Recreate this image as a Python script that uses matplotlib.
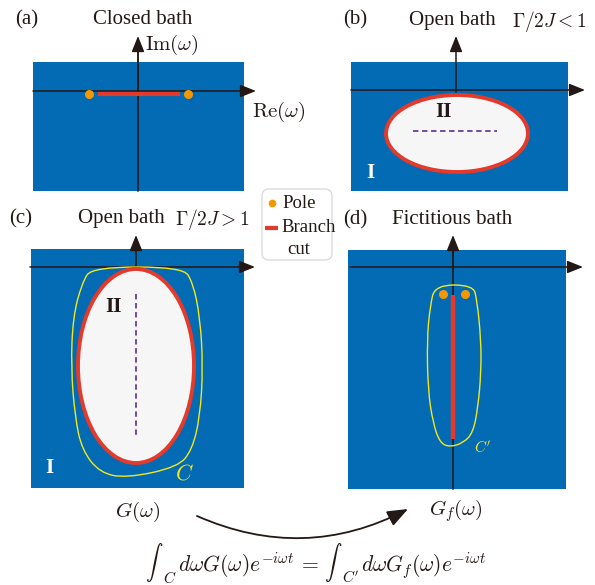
import matplotlib
matplotlib.use("Agg")
import matplotlib.pyplot as plt
from matplotlib.patches import Rectangle, Ellipse, FancyArrowPatch, FancyBboxPatch, PathPatch
from matplotlib.path import Path

plt.rcParams['font.family'] = ['Liberation Serif', 'DejaVu Serif']
plt.rcParams['mathtext.fontset'] = 'cm'

# ---- colours ----
BLUE = '#036AB4'
RED = '#E43A2B'
ORANGE = '#F39800'
YELLOW = '#F4E81A'
INNER = '#F5F6F5'
PURPLE = '#6E3A9E'
INK = '#231815'

# ---- complex-plane content of each panel (Re, Im), plane units ----
# (a) closed bath: two poles joined by a branch cut on the real axis
poles_a_re = [-49, 50]
poles_a_im = [-3, -3]
cut_a_re = [-40, 42]
cut_a_im = [-3, -3]

# (b) open bath, Gamma/2J < 1: region II is a wide ellipse
ell_b_center = (1, -43.5)
ell_b_size = (142, 77)
dash_b_re = [-43, 41]
dash_b_im = [-41, -41]

# (c) open bath, Gamma/2J > 1: region II is a tall ellipse, contour C around it
ell_c_center = (0, -99)
ell_c_size = (116, 194)
dash_c_re = [0, 0]
dash_c_im = [-27, -171]
contour_c_re = [-44, 47, 57, 64, 67, 64, 56, 42, -9, -36, -54, -61, -65, -63, -54]
contour_c_im = [0, 0, -16, -50, -100, -150, -183, -200, -211, -206, -183, -150, -100, -50, -16]

# (d) fictitious bath: two poles above a vertical branch cut, contour C'
poles_d_re = [-10, 12]
poles_d_im = [-27, -27]
cut_d_re = [0, 0]
cut_d_im = [-28, -172]
contour_d_re = [-18, 20, 24, 28, 28, 25, 20, 10, -3, -13, -20, -25, -26, -23]
contour_d_im = [-18, -18, -33, -73, -106, -140, -166, -176, -180, -176, -156, -123, -73, -40]

fig = plt.figure(figsize=(5.95, 5.85), dpi=100)
ax = fig.add_axes([0, 0, 1, 1])
ax.set_xlim(0, 595)
ax.set_ylim(585, 0)
ax.axis('off')


def to_fig(origin, re, im):
    ox, oy = origin
    return [ox + r for r in re], [oy - i for i in im]


def arrow(p0, p1, lw=1.1):
    a = FancyArrowPatch(p0, p1, arrowstyle='-|>,head_length=0.8,head_width=0.32',
                        mutation_scale=12, lw=lw, color=INK, shrinkA=0, shrinkB=0,
                        zorder=5)
    ax.add_patch(a)


def smooth_closed(xs, ys):
    n = len(xs)
    mids = [((xs[i] + xs[(i + 1) % n]) / 2, (ys[i] + ys[(i + 1) % n]) / 2) for i in range(n)]
    verts = [mids[-1]]
    codes = [Path.MOVETO]
    for i in range(n):
        verts += [(xs[i], ys[i]), mids[i]]
        codes += [Path.CURVE3, Path.CURVE3]
    return Path(verts, codes)


def blue_box(x0, y0, x1, y1):
    ax.add_patch(Rectangle((x0, y0), x1 - x0, y1 - y0, facecolor=BLUE, edgecolor='none', zorder=1))


TXT = dict(fontsize=15, color=INK, va='center')

# ================= (a) =================
oa = (138, 91)
blue_box(33, 62, 244, 191)
ax.plot([138, 138], [191, 50], color=INK, lw=1.1, zorder=4)
arrow((33, 91), (256, 91))
arrow((138, 100), (138, 36))
x, y = to_fig(oa, cut_a_re, cut_a_im)
ax.plot(x, y, color=RED, lw=3, solid_capstyle='butt', zorder=6)
x, y = to_fig(oa, poles_a_re, poles_a_im)
ax.plot(x, y, 'o', color=ORANGE, ms=6.5, mec='none', zorder=7)
ax.text(15, 20, '(a)', ha='left', **TXT)
ax.text(143, 20, 'Closed bath', ha='center', **TXT)
ax.text(145, 45, r'$\mathrm{Im}(\omega)$', ha='left', **TXT)
ax.text(252, 112, r'$\mathrm{Re}(\omega)$', ha='left', **TXT)

# ================= (b) =================
ob = (456, 90)
blue_box(351, 62, 568, 191)
arrow((351, 90), (585, 90))
arrow((456, 92), (456, 36))
cx, cy = to_fig(ob, [ell_b_center[0]], [ell_b_center[1]])
ax.add_patch(Ellipse((cx[0], cy[0]), ell_b_size[0], ell_b_size[1], facecolor=INNER,
                     edgecolor=RED, lw=2.8, zorder=6))
x, y = to_fig(ob, dash_b_re, dash_b_im)
ax.plot(x, y, color=PURPLE, lw=1.3, ls=(0, (3, 2)), zorder=7)
ax.text(443, 112, 'II', ha='center', fontsize=15, fontweight='bold', color=INK, va='center', zorder=8)
ax.text(370, 173, 'I', ha='center', fontsize=15, fontweight='bold', color='white', va='center', zorder=8)
ax.text(355, 20, '(b)', ha='center', **TXT)
ax.text(452, 20, 'Open bath', ha='center', **TXT)
ax.text(549, 21, r'$\Gamma/2J<1$', ha='center', fontsize=14, color=INK, va='center')

# ================= (c) =================
oc = (136, 267)
blue_box(31, 249, 244, 488)
arrow((30, 267), (255, 267))
arrow((136, 270), (136, 235))
x, y = to_fig(oc, contour_c_re, contour_c_im)
ax.add_patch(PathPatch(smooth_closed(x, y), facecolor='none', edgecolor=YELLOW, lw=1.0, zorder=5))
cx, cy = to_fig(oc, [ell_c_center[0]], [ell_c_center[1]])
ax.add_patch(Ellipse((cx[0], cy[0]), ell_c_size[0], ell_c_size[1], facecolor=INNER,
                     edgecolor=RED, lw=2.8, zorder=6))
x, y = to_fig(oc, dash_c_re, dash_c_im)
ax.plot(x, y, color=PURPLE, lw=1.3, ls=(0, (3, 2)), zorder=7)
ax.text(114, 307, 'II', ha='center', fontsize=15, fontweight='bold', color=INK, va='center', zorder=8)
ax.text(49, 468, 'I', ha='center', fontsize=15, fontweight='bold', color='white', va='center', zorder=8)
ax.text(184, 474, r'$C$', ha='center', fontsize=16, color=YELLOW, va='center', zorder=8)
ax.text(21, 219, '(c)', ha='center', **TXT)
ax.text(121, 219, 'Open bath', ha='center', **TXT)
ax.text(212, 220, r'$\Gamma/2J>1$', ha='center', fontsize=14, color=INK, va='center')

# ================= (d) =================
od = (453, 267)
blue_box(348, 250, 566, 489)
ax.plot([453, 453], [489, 250], color=INK, lw=1.1, zorder=4)
arrow((350, 267), (583, 267))
arrow((453, 270), (453, 235))
x, y = to_fig(od, contour_d_re, contour_d_im)
ax.add_patch(PathPatch(smooth_closed(x, y), facecolor='none', edgecolor=YELLOW, lw=1.0, zorder=5))
x, y = to_fig(od, cut_d_re, cut_d_im)
ax.plot(x, y, color=RED, lw=3.2, solid_capstyle='butt', zorder=6)
x, y = to_fig(od, poles_d_re, poles_d_im)
ax.plot(x, y, 'o', color=ORANGE, ms=6.5, mec='none', zorder=7)
ax.text(483, 448, r"$C'$", ha='center', fontsize=11, color=YELLOW, va='center', zorder=8)
ax.text(355, 220, '(d)', ha='center', **TXT)
ax.text(452, 220, 'Fictitious bath', ha='center', **TXT)

# ================= legend =================
ax.add_patch(FancyBboxPatch((262, 189), 70, 71, boxstyle='round,pad=0,rounding_size=7',
                            facecolor='white', edgecolor='#D8D8D8', lw=0.9, zorder=3))
ax.plot([272], [203], 'o', color=ORANGE, ms=5.5, mec='none', zorder=4)
ax.text(282, 203, 'Pole', ha='left', fontsize=13.5, color=INK, va='center')
ax.plot([265, 278], [228, 228], color=RED, lw=3, solid_capstyle='butt', zorder=4)
ax.text(281, 228, 'Branch', ha='left', fontsize=13.5, color=INK, va='center')
ax.text(287, 250, 'cut', ha='left', fontsize=13.5, color=INK, va='center')

# ================= bottom: mapping G -> G_f =================
ax.text(138, 512, r'$G(\omega)$', ha='center', **TXT)
ax.text(456, 511, r'$G_f(\omega)$', ha='center', **TXT)
ax.add_patch(FancyArrowPatch((197, 516), (408, 509), connectionstyle='arc3,rad=0.24',
                             arrowstyle='-|>,head_length=0.9,head_width=0.35', mutation_scale=14,
                             lw=1.3, color=INK, shrinkA=0, shrinkB=0))

# identity of the two contour integrals, typeset piece by piece so that the
# integral signs and their lower limits get their own sizes
EQ_SIZE = 15.5
INT_SIZE = 12.5
SUB_SIZE = 11
BASE_Y = 572      # baseline of the integrands
SUB_Y = 583       # baseline of the lower limits
INT_MID = 562     # vertical middle of the integral signs

fig.canvas.draw()
renderer = fig.canvas.get_renderer()


def put(x, y, s, fs, va='baseline'):
    t = ax.text(x, y, s, fontsize=fs, color=INK, ha='left', va=va)
    return t.get_window_extent(renderer=renderer).x1


x = 145
x = put(x, INT_MID, r'$\int$', INT_SIZE, va='center')
x = put(x, SUB_Y, r'$C$', SUB_SIZE)
x = put(x + 1, BASE_Y, r'$d\omega G(\omega)e^{-i\omega t}\,=$', EQ_SIZE)
x = put(x + 5, INT_MID, r'$\int$', INT_SIZE, va='center')
x = put(x, SUB_Y, r"$C'$", SUB_SIZE)
put(x + 1, BASE_Y, r'$d\omega G_f(\omega)e^{-i\omega t}$', EQ_SIZE)

fig.savefig('out.png', dpi=100)
